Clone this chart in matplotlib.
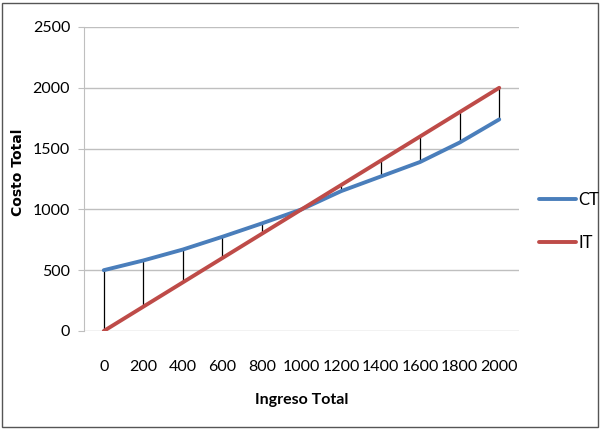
import matplotlib
matplotlib.use("Agg")
import matplotlib.pyplot as plt
from matplotlib.patches import Rectangle

x = [0, 200, 400, 600, 800, 1000, 1200, 1400, 1600, 1800, 2000]
ct = [500, 580, 670, 775, 885, 1000, 1150, 1270, 1390, 1550, 1740]
it = [0, 200, 400, 600, 800, 1000, 1200, 1400, 1600, 1800, 2000]
yticks = [0, 500, 1000, 1500, 2000, 2500]

plt.rcParams['font.family'] = ['Lato', 'DejaVu Sans']

fig = plt.figure(figsize=(6, 4.29), dpi=100)
ax = fig.add_axes([84/600, 1-331/429, (519-84)/600, (331-27)/429])

ax.vlines(x, [min(a, b) for a, b in zip(ct, it)], [max(a, b) for a, b in zip(ct, it)],
          colors='black', linewidth=0.9, zorder=2)
ax.plot(x, ct, color='#4A7EBB', linewidth=2.8, label='CT', zorder=3, solid_capstyle='round')
ax.plot(x, it, color='#BE4B48', linewidth=2.8, label='IT', zorder=3, solid_capstyle='round')

ax.set_xlim(-100, 2100)
ax.set_ylim(0, 2500)
ax.set_xticks(x)
ax.set_xticklabels([str(v) for v in x], fontsize=11.5)
ax.set_yticks(yticks)
ax.set_yticklabels([str(v) for v in yticks], fontsize=11.5)
ax.grid(axis='y', color='#BFBFBF', linewidth=1.0)
ax.set_axisbelow(True)
for s in ['top', 'right', 'bottom']:
    ax.spines[s].set_visible(False)
ax.spines['left'].set_color('#BFBFBF')
ax.tick_params(axis='y', length=4, color='#BFBFBF', pad=6)
ax.tick_params(axis='x', length=0, pad=21)

ax.set_xlabel('Ingreso Total', fontsize=11.5, fontweight='bold', labelpad=13.5)
fig.text(18/600, 1-172/429, 'Costo Total', rotation=90, ha='center', va='center',
         fontsize=10, fontweight='bold', family=['DejaVu Sans'])

leg = fig.legend(loc='upper left', bbox_to_anchor=(524/600, 1-177/429), frameon=False,
                 fontsize=12, handlelength=2.2, labelspacing=1.6, handletextpad=0.15)

fig.patches.append(Rectangle((2/600, 2/429), 596/600, 424/429, transform=fig.transFigure,
                             fill=False, edgecolor='#555555', linewidth=1.0))

fig.savefig('out.png', dpi=100)
